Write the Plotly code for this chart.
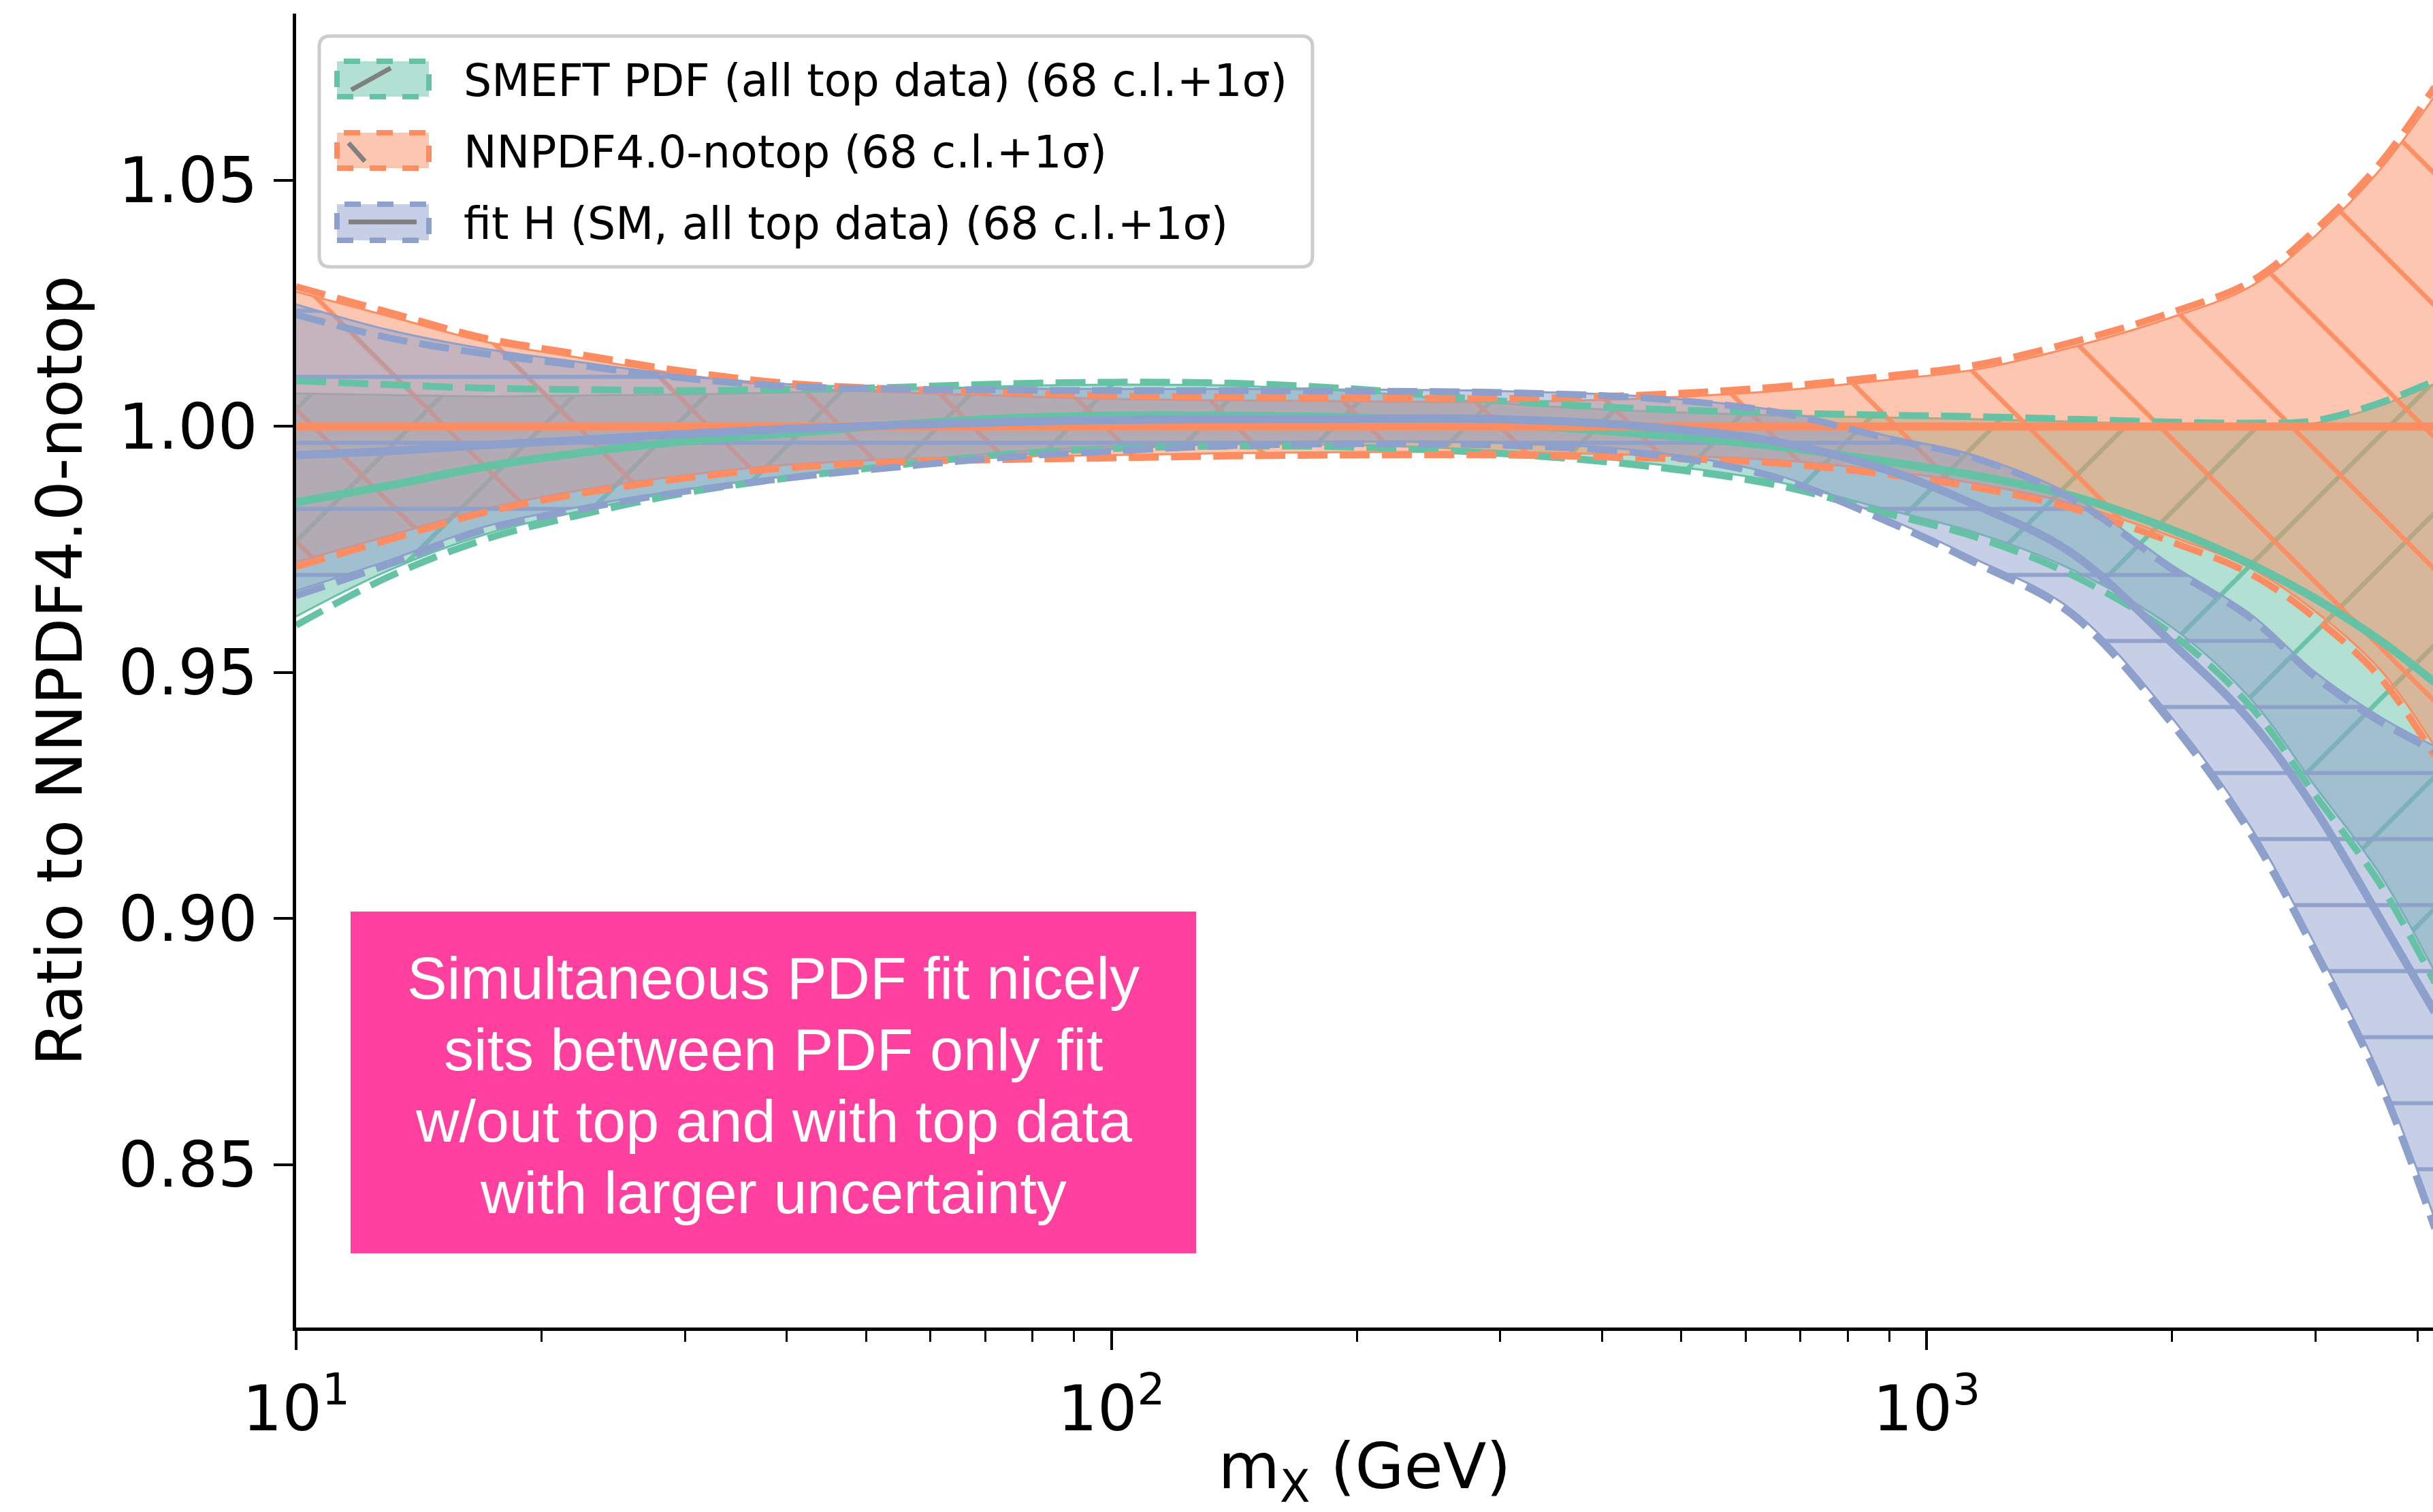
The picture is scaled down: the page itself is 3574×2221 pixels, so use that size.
import plotly.graph_objects as go

# ---------------- data ----------------
mass = [10, 13, 17, 22, 30, 40, 55, 75, 100, 140, 200, 300, 450, 650, 900, 1150, 1500, 2000, 2500, 3000, 3600, 4200]

# SMEFT PDF (all top data)
smeft_central = [0.9846, 0.9880, 0.9918, 0.9945, 0.9970, 0.9986, 1.0004, 1.0017, 1.0022, 1.0022, 1.0018, 1.0005, 0.9985, 0.9960, 0.9928, 0.9900, 0.9860, 0.9790, 0.9720, 0.9650, 0.9565, 0.9480]
smeft_cl_hi = [1.0067, 1.0064, 1.0061, 1.0063, 1.0065, 1.0069, 1.0075, 1.0082, 1.0085, 1.0083, 1.0071, 1.0047, 1.0031, 1.0023, 1.0018, 1.0015, 1.0010, 1.0004, 1.0002, 1.0007, 1.0042, 1.0087]
smeft_cl_lo = [0.9614, 0.9708, 0.9780, 0.9826, 0.9871, 0.9900, 0.9926, 0.9948, 0.9959, 0.9964, 0.9962, 0.9950, 0.9926, 0.9889, 0.9830, 0.9784, 0.9711, 0.9592, 0.9446, 0.9268, 0.9090, 0.8892]
smeft_sig_hi = [1.0093, 1.0085, 1.0078, 1.0075, 1.0073, 1.0075, 1.0080, 1.0087, 1.0090, 1.0088, 1.0076, 1.0052, 1.0036, 1.0028, 1.0023, 1.0020, 1.0015, 1.0009, 1.0007, 1.0012, 1.0048, 1.0093]
smeft_sig_lo = [0.9596, 0.9695, 0.9770, 0.9818, 0.9865, 0.9895, 0.9922, 0.9944, 0.9955, 0.9960, 0.9958, 0.9945, 0.9920, 0.9882, 0.9822, 0.9775, 0.9700, 0.9578, 0.9430, 0.9250, 0.9070, 0.8870]

# NNPDF4.0-notop
notop_central = [1.0000, 1.0000, 1.0000, 1.0000, 1.0000, 1.0000, 1.0000, 1.0000, 1.0000, 1.0000, 1.0000, 1.0000, 1.0000, 1.0000, 1.0000, 1.0000, 1.0000, 1.0000, 1.0000, 1.0000, 1.0000, 1.0000]
notop_cl_hi = [1.0274, 1.0224, 1.0173, 1.0141, 1.0105, 1.0081, 1.0069, 1.0062, 1.0056, 1.0053, 1.0051, 1.0050, 1.0057, 1.0072, 1.0095, 1.0116, 1.0160, 1.0222, 1.0285, 1.0388, 1.0522, 1.0672]
notop_cl_lo = [0.9725, 0.9778, 0.9832, 0.9869, 0.9901, 0.9922, 0.9934, 0.9939, 0.9942, 0.9946, 0.9948, 0.9948, 0.9942, 0.9932, 0.9909, 0.9884, 0.9844, 0.9776, 0.9712, 0.9624, 0.9506, 0.9350]
notop_sig_hi = [1.0284, 1.0232, 1.0180, 1.0148, 1.0112, 1.0088, 1.0076, 1.0069, 1.0063, 1.0060, 1.0058, 1.0057, 1.0064, 1.0080, 1.0103, 1.0125, 1.0170, 1.0232, 1.0295, 1.0400, 1.0535, 1.0690]
notop_sig_lo = [0.9715, 0.9770, 0.9825, 0.9862, 0.9895, 0.9916, 0.9928, 0.9933, 0.9936, 0.9940, 0.9942, 0.9942, 0.9936, 0.9926, 0.9902, 0.9876, 0.9835, 0.9765, 0.9700, 0.9610, 0.9490, 0.9330]

# fit H (SM, all top data)
fith_central = [0.9942, 0.9950, 0.9962, 0.9972, 0.9985, 0.9995, 1.0003, 1.0009, 1.0013, 1.0015, 1.0016, 1.0015, 1.0000, 0.9970, 0.9910, 0.9840, 0.9745, 0.9560, 0.9400, 0.9220, 0.9000, 0.8810]
fith_cl_hi = [1.0248, 1.0196, 1.0158, 1.0132, 1.0103, 1.0086, 1.0079, 1.0077, 1.0076, 1.0076, 1.0075, 1.0072, 1.0061, 1.0033, 0.9980, 0.9940, 0.9862, 0.9718, 0.9618, 0.9500, 0.9410, 0.9350]
fith_cl_lo = [0.9666, 0.9728, 0.9796, 0.9835, 0.9872, 0.9899, 0.9922, 0.9942, 0.9954, 0.9965, 0.9969, 0.9966, 0.9950, 0.9903, 0.9812, 0.9730, 0.9630, 0.9408, 0.9185, 0.8945, 0.8682, 0.8390]
fith_sig_hi = [1.0227, 1.0180, 1.0148, 1.0125, 1.0098, 1.0082, 1.0076, 1.0074, 1.0073, 1.0073, 1.0072, 1.0069, 1.0058, 1.0030, 0.9975, 0.9935, 0.9855, 0.9710, 0.9610, 0.9490, 0.9400, 0.9340]
fith_sig_lo = [0.9656, 0.9720, 0.9790, 0.9830, 0.9868, 0.9895, 0.9918, 0.9938, 0.9950, 0.9961, 0.9965, 0.9962, 0.9945, 0.9897, 0.9805, 0.9722, 0.9620, 0.9395, 0.9170, 0.8930, 0.8665, 0.8370]

labels = ["SMEFT PDF (all top data) (68 c.l.+1σ)",
          "NNPDF4.0-notop (68 c.l.+1σ)",
          "fit H (SM, all top data) (68 c.l.+1σ)"]
colors = ["#66c2a5", "#fc8d62", "#8da0cb"]
fills = ["rgba(102,194,165,0.5)", "rgba(252,141,98,0.5)", "rgba(141,160,203,0.5)"]
hatches = ["/", "\\", "-"]
hatch_sizes = [137, 137, 97]

x_ticks = [10, 100, 1000]
x_ticktext = ["10<sup>1</sup>", "10<sup>2</sup>", "10<sup>3</sup>"]
x_minor = [20, 30, 40, 50, 60, 70, 80, 90, 200, 300, 400, 500, 600, 700, 800, 900, 2000, 3000, 4000]
y_ticks = [0.85, 0.90, 0.95, 1.00, 1.05]

note_lines = ["Simultaneous PDF fit nicely",
              "sits between PDF only fit",
              "w/out top and with top data",
              "with larger uncertainty"]

series = [
    (smeft_central, smeft_cl_lo, smeft_cl_hi, smeft_sig_lo, smeft_sig_hi),
    (notop_central, notop_cl_lo, notop_cl_hi, notop_sig_lo, notop_sig_hi),
    (fith_central, fith_cl_lo, fith_cl_hi, fith_sig_lo, fith_sig_hi),
]

FONT = "DejaVu Sans"
fig = go.Figure()

# bands (68 c.l.) with hatching
for i, (c, lo, hi, slo, shi) in enumerate(series):
    fig.add_trace(go.Scatter(x=mass, y=lo, mode="lines",
                             line=dict(color=colors[i], width=3, shape="spline"),
                             showlegend=False, hoverinfo="skip"))
    fig.add_trace(go.Scatter(x=mass, y=hi, mode="lines", fill="tonexty",
                             fillcolor=fills[i],
                             fillpattern=dict(shape=hatches[i], size=hatch_sizes[i],
                                              solidity=0.05 if i < 2 else 0.06,
                                              fgcolor=colors[i], fgopacity=0.95,
                                              bgcolor=fills[i], fillmode="replace"),
                             line=dict(color=colors[i], width=3, shape="spline"),
                             name=labels[i], showlegend=False, hoverinfo="skip"))

# 1 sigma dashed lines and central lines
for i, (c, lo, hi, slo, shi) in enumerate(series):
    for arr in (slo, shi):
        fig.add_trace(go.Scatter(x=mass, y=arr, mode="lines",
                                 line=dict(color=colors[i], width=10, dash="44px,18px", shape="spline"),
                                 showlegend=False, hoverinfo="skip"))
    fig.add_trace(go.Scatter(x=mass, y=c, mode="lines",
                             line=dict(color=colors[i], width=12, shape="spline"),
                             name=labels[i], showlegend=False))

# -------- plot-area geometry (pixels) --------
W, H = 3574, 2221
L, R, T, B = 435, 0, 20, 271
PW, PH = W - L - R, H - T - B


def px(x):
    return (x - L) / PW


def py(y):
    return (H - B - y) / PH


shapes = []
annotations = []

# legend frame (rounded)
x0, x1, y0, y1 = px(469), px(1928), py(53), py(392)
rx, ry = 16 / PW, 16 / PH
path = (f"M{x0+rx},{y0} L{x1-rx},{y0} Q{x1},{y0} {x1},{y0-ry} "
        f"L{x1},{y1+ry} Q{x1},{y1} {x1-rx},{y1} L{x0+rx},{y1} "
        f"Q{x0},{y1} {x0},{y1+ry} L{x0},{y0-ry} Q{x0},{y0} {x0+rx},{y0} Z")
shapes.append(dict(type="path", xref="paper", yref="paper", path=path,
                   fillcolor="rgba(255,255,255,0.8)", line=dict(color="#cccccc", width=5), layer="above"))

rows = [(90, 142), (195, 247), (300, 353)]
hatch_lines = [((516, 132), (574, 100)), ((512, 210), (536, 237)), ((512, 326), (612, 326))]
for i, (ra, rb) in enumerate(rows):
    shapes.append(dict(type="rect", xref="paper", yref="paper",
                       x0=px(495), x1=px(630), y0=py(rb), y1=py(ra),
                       fillcolor=fills[i], line=dict(color=colors[i], width=8, dash="dash"), layer="above"))
    (ax, ay), (bx, by) = hatch_lines[i]
    shapes.append(dict(type="line", xref="paper", yref="paper",
                       x0=px(ax), y0=py(ay), x1=px(bx), y1=py(by),
                       line=dict(color="#808080", width=7), layer="above"))
    annotations.append(dict(xref="paper", yref="paper", x=px(679), y=py((ra + rb) / 2 + 2),
                            xanchor="left", yanchor="middle", showarrow=False,
                            text=labels[i], font=dict(family=FONT, size=65, color="black")))

# pink note box
shapes.append(dict(type="rect", xref="paper", yref="paper",
                   x0=px(515), x1=px(1757), y0=py(1841), y1=py(1339),
                   fillcolor="#ff409e", line=dict(width=0), layer="above"))
for k, (txt, yc) in enumerate(zip(note_lines, [1436, 1541, 1646, 1751])):
    annotations.append(dict(xref="paper", yref="paper", x=px(1136), y=py(yc),
                            xanchor="center", yanchor="middle", showarrow=False,
                            text=txt, font=dict(family="Liberation Sans, Arial", size=88, color="white")))

fig.update_layout(
    width=W, height=H,
    margin=dict(l=L, r=R, t=T, b=B, pad=0, autoexpand=False),
    paper_bgcolor="white", plot_bgcolor="white",
    showlegend=False,
    shapes=shapes, annotations=annotations,
    font=dict(family=FONT, color="black"),
)

fig.update_xaxes(
    type="log", range=[1.0, 3.6212], automargin=True,
    showline=True, linecolor="black", linewidth=5, mirror=False,
    showgrid=False, zeroline=False,
    ticks="outside", ticklen=28, tickwidth=4, tickcolor="black",
    tickvals=x_ticks, ticktext=x_ticktext,
    tickfont=dict(family=FONT, size=92, color="black"),
    ticklabelstandoff=8,
    minor=dict(tickvals=x_minor, ticks="outside", ticklen=16, tickwidth=3, tickcolor="black", showgrid=False),
    title=dict(text="m<sub>X</sub> (GeV)", font=dict(family=FONT, size=93, color="black"), standoff=60),
)
fig.update_yaxes(
    range=[0.8169, 1.0839], automargin=True,
    showline=True, linecolor="black", linewidth=5, mirror=False,
    showgrid=False, zeroline=False,
    ticks="outside", ticklen=28, tickwidth=4, tickcolor="black",
    tickvals=y_ticks, ticktext=[f"{v:.2f}" for v in y_ticks],
    tickfont=dict(family=FONT, size=92, color="black"),
    ticklabelstandoff=5,
    title=dict(text="Ratio to NNPDF4.0-notop", font=dict(family=FONT, size=93, color="black"), standoff=24),
)

fig.write_html("out.html")
